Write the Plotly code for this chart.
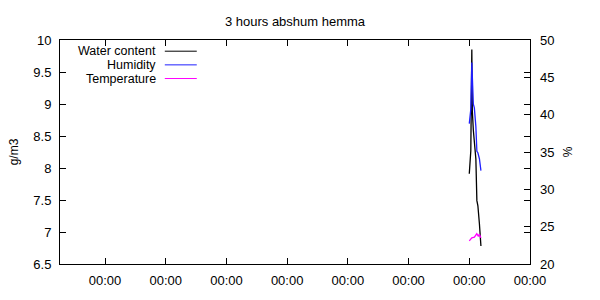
import plotly.graph_objects as go

# time in minutes (tick every 60 min)
tick_vals = [0, 60, 120, 180, 240, 300, 360, 420]
tick_text = ["00:00"] * 8

t_water = [360, 361.5, 362.5, 363, 364, 365, 366.5, 367.5, 368.5, 370, 371.5]
water = [7.91, 8.27, 9.85, 8.89, 8.59, 8.44, 8.14, 7.49, 7.41, 7.13, 6.78]

t_hum = [360, 361.5, 362.5, 364, 365, 366.5, 367.5, 368.5, 370, 371.5]
humidity = [38.8, 40.7, 47.0, 41.4, 40.9, 38.4, 35.1, 34.9, 34.1, 32.5]

t_temp = [360, 361, 362.5, 365, 367.4, 369, 370, 371.5]
temperature = [23.1, 23.3, 23.5, 23.6, 24.05, 23.7, 24.0, 23.5]

names = ["Water content", "Humidity", "Temperature"]
colors = ["#000000", "#1f1fff", "#ff00ff"]

fig = go.Figure()
fig.add_trace(go.Scatter(x=t_water, y=water, mode="lines", name=names[0],
                         line=dict(color=colors[0], width=1.3), yaxis="y"))
fig.add_trace(go.Scatter(x=t_hum, y=humidity, mode="lines", name=names[1],
                         line=dict(color=colors[1], width=1.3), yaxis="y2"))
fig.add_trace(go.Scatter(x=t_temp, y=temperature, mode="lines", name=names[2],
                         line=dict(color=colors[2], width=1.3), yaxis="y2"))

# custom gnuplot-style legend (text right-aligned, sample line on the right)
leg_y = [0.950, 0.889, 0.828]
for n, c, yy in zip(names, colors, leg_y):
    fig.add_annotation(x=0.206, y=yy, xref="paper", yref="paper", text=n,
                       showarrow=False, xanchor="right", yanchor="middle",
                       borderpad=0,
                       font=dict(size=12.5, color="black"))
    fig.add_shape(type="line", xref="paper", yref="paper",
                  x0=0.223, x1=0.291, y0=yy, y1=yy,
                  line=dict(color=c, width=1))

font = dict(family="Liberation Sans, Arial, sans-serif", size=13, color="black")

fig.update_layout(
    width=600, height=300,
    margin=dict(l=60, r=70, t=40, b=28),
    paper_bgcolor="white", plot_bgcolor="white",
    showlegend=False,
    font=font,
    title=dict(text="3 hours abshum hemma", x=0.5, xref="paper", y=0.93, yanchor="middle",
               font=dict(size=13)),
    xaxis=dict(range=[-44.5, 420], tickvals=tick_vals, ticktext=tick_text,
               ticks="inside", ticklen=6, tickcolor="black", ticklabelstandoff=4,
               showline=True, linecolor="black", linewidth=1, mirror="ticks",
               showgrid=False, zeroline=False),
    yaxis=dict(range=[6.5, 10], dtick=0.5, tick0=6.5,
               ticks="inside", ticklen=6, tickcolor="black", ticklabelstandoff=5,
               showline=True, linecolor="black", linewidth=1, mirror="ticks",
               showgrid=False, zeroline=False,
               title=dict(text="g/m3", standoff=12, font=dict(size=12))),
    yaxis2=dict(range=[20, 50], dtick=5, overlaying="y", side="right",
                ticks="inside", ticklen=6, tickcolor="black", ticklabelstandoff=9,
                showline=False, showgrid=False, zeroline=False,
                title=dict(text="%", standoff=10, font=dict(size=12))),
)

fig.write_html("out.html")
